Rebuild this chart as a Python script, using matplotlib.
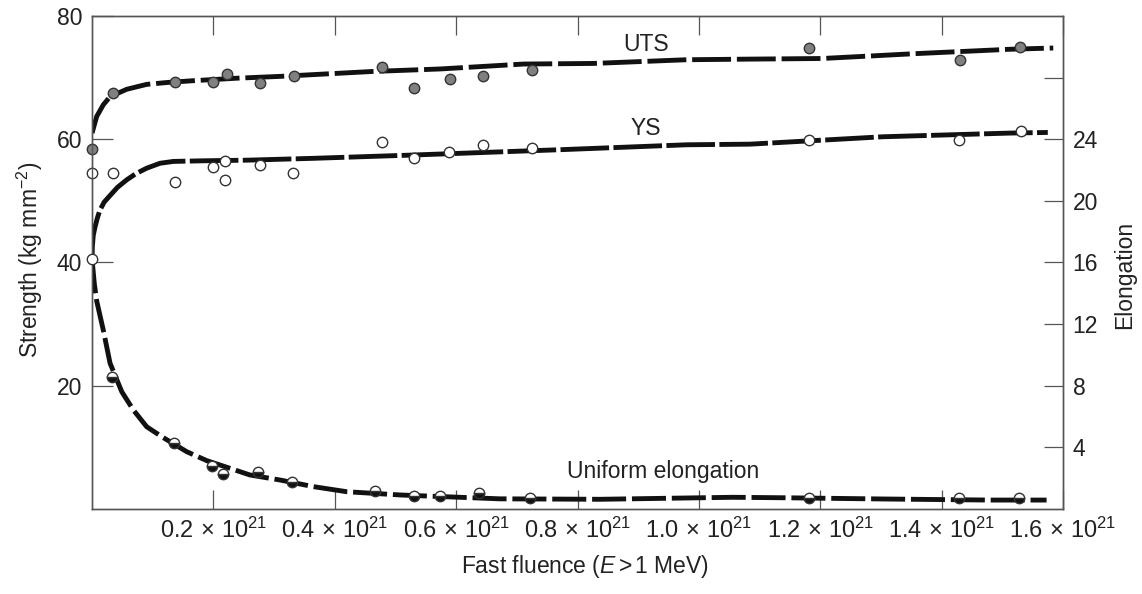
import matplotlib
matplotlib.use('Agg')
import matplotlib.pyplot as plt

plt.rcParams['font.family'] = ['Liberation Sans', 'DejaVu Sans']
plt.rcParams['mathtext.fontset'] = 'custom'
plt.rcParams['mathtext.rm'] = 'Liberation Sans'
plt.rcParams['mathtext.it'] = 'Liberation Sans:italic'
plt.rcParams['mathtext.bf'] = 'Liberation Sans:bold'

# ---- data (fluence in units of 1e21) ----
uts_x = [0.0, 0.035, 0.137, 0.200, 0.223, 0.277, 0.332, 0.478, 0.530, 0.590, 0.644, 0.725, 1.182, 1.430, 1.530]
uts_y = [58.4, 67.5, 69.3, 69.3, 70.6, 69.1, 70.3, 71.8, 68.3, 69.8, 70.3, 71.2, 74.8, 72.8, 74.9]

ys_x = [0.0, 0.035, 0.137, 0.200, 0.219, 0.219, 0.276, 0.331, 0.478, 0.530, 0.588, 0.644, 0.725, 1.182, 1.428, 1.531]
ys_y = [54.5, 54.6, 53.1, 55.5, 56.5, 53.4, 55.9, 54.6, 59.5, 56.9, 58.0, 59.1, 58.6, 59.8, 59.9, 61.3]

ue_x = [0.0325, 0.135, 0.197, 0.216, 0.274, 0.329, 0.466, 0.530, 0.573, 0.637, 0.722, 1.182, 1.428, 1.528]
ue_y = [8.55, 4.26, 2.79, 2.27, 2.38, 1.77, 1.17, 0.84, 0.84, 1.02, 0.69, 0.73, 0.73, 0.73]
ue0_x = [0.0]
ue0_y = [16.2]

# fitted curves
uts_fit_x = [0.0, 0.0077, 0.0186, 0.0297, 0.057, 0.090, 0.123, 0.167, 0.238, 0.310, 0.463, 0.573, 0.711, 0.826, 0.980, 1.084, 1.203, 1.359, 1.513, 1.584]
uts_fit_y = [61.0, 63.7, 65.6, 66.9, 68.1, 68.9, 69.2, 69.5, 69.9, 70.2, 71.0, 71.4, 72.2, 72.3, 72.9, 73.0, 73.1, 73.9, 74.6, 74.8]

ys_fit_x = [0.0, 0.0005, 0.002, 0.005, 0.009, 0.013, 0.020, 0.030, 0.042, 0.057, 0.072, 0.090, 0.112, 0.134, 0.183, 0.255, 0.364, 0.518, 0.771, 0.980, 1.084, 1.303, 1.513, 1.575]
ys_fit_y = [40.4, 42.6, 44.4, 45.8, 47.3, 48.5, 49.8, 50.9, 52.2, 53.4, 54.4, 55.3, 56.1, 56.4, 56.5, 56.6, 56.9, 57.4, 58.3, 59.1, 59.2, 60.4, 61.0, 61.1]

ue_fit_x = [0.0, 0.0038, 0.0077, 0.0186, 0.0297, 0.049, 0.068, 0.090, 0.115, 0.156, 0.189, 0.222, 0.260, 0.310, 0.365, 0.420, 0.508, 0.672, 0.837, 1.056, 1.139, 1.303, 1.480, 1.573]
ue_fit_y = [16.2, 14.6, 13.5, 11.6, 9.46, 7.61, 6.43, 5.34, 4.69, 3.72, 3.14, 2.71, 2.21, 1.88, 1.45, 1.12, 0.91, 0.66, 0.63, 0.76, 0.73, 0.65, 0.58, 0.58]

x_ticks = [0.2, 0.4, 0.6, 0.8, 1.0, 1.2, 1.4, 1.6]
x_ticklabels = [r'$0.2\,\times\,10^{21}$', r'$0.4\,\times\,10^{21}$', r'$0.6\,\times\,10^{21}$', r'$0.8\,\times\,10^{21}$',
                r'$1.0\,\times\,10^{21}$', r'$1.2\,\times\,10^{21}$', r'$1.4\,\times\,10^{21}$', r'$1.6\,\times\,10^{21}$']
left_ticks = [20, 40, 60, 80]
left_ticklabels = ['20', '40', '60', '80']
right_ticks = [4, 8, 12, 16, 20, 24, 28]
right_ticklabels = ['4', '8', '12', '16', '20', '24', '']

# ---- figure ----
fig = plt.figure(figsize=(11.42, 5.94), dpi=100)
ax = fig.add_axes([0.0806, 0.1431, 0.8502, 0.8300])
ax.set_xlim(0, 1.6)
ax.set_ylim(0, 80)
ax2 = ax.twinx()
ax2.set_ylim(0, 32)

spine_col = '#555555'
for a in (ax, ax2):
    for s in a.spines.values():
        s.set_color(spine_col)
        s.set_linewidth(1.0)

line_kw = dict(color='#111111', lw=3.5, solid_capstyle='butt', dash_capstyle='butt')
ax.plot(uts_fit_x, uts_fit_y, dashes=(8, 1.2), zorder=2, **line_kw)
ax.plot(ys_fit_x, ys_fit_y, dashes=(10, 0.9), zorder=2, **line_kw)
ax2.plot(ue_fit_x, ue_fit_y, dashes=(7, 1.2), zorder=2, **line_kw)

mk = dict(linestyle='none', marker='o', markersize=7.5, markeredgewidth=1.0,
          markeredgecolor='#333333', clip_on=False, zorder=4)
ax.plot(uts_x, uts_y, markerfacecolor='#808080', **mk)
ax.plot(ys_x, ys_y, markerfacecolor='white', **mk)
ax2.plot(ue_x, ue_y, markerfacecolor='#111111', markerfacecoloralt='white',
         fillstyle='bottom', **mk)
ax2.plot(ue0_x, ue0_y, markerfacecolor='white', **mk)

# ticks
ax.set_xticks(x_ticks)
ax.set_xticklabels(x_ticklabels)
ax.xaxis.set_ticks_position('both')
ax.set_yticks(left_ticks)
ax.set_yticklabels(left_ticklabels)
ax2.set_yticks(right_ticks)
ax2.set_yticklabels(right_ticklabels)

ax.tick_params(axis='x', direction='in', length=14, width=0.9, color=spine_col,
               labelsize=17, pad=6, labelcolor='#222222')
ax.tick_params(axis='y', direction='in', length=15, width=0.9, color=spine_col,
               labelsize=16.5, pad=7, labelcolor='#222222')
ax2.tick_params(axis='y', direction='in', length=14, width=0.9, color=spine_col,
                labelsize=16.5, pad=7, labelcolor='#222222')

# curve labels
ax.text(0.913, 75.3, 'UTS', fontsize=16.5, ha='center', va='center', color='#222222')
ax.text(0.913, 61.8, 'YS', fontsize=16.5, ha='center', va='center', color='#222222')
ax.text(0.941, 6.1, 'Uniform elongation', fontsize=16.5, ha='center', va='center', color='#222222')

# axis titles
fig.text(30 / 1142, 1 - 260 / 594, 'Strength (kg mm$^{-2}$)', rotation=90, fontsize=16.5,
         ha='center', va='center', color='#222222')
fig.text(1125 / 1142, 1 - 275 / 594, 'Elongation', rotation=90, fontsize=16.5,
         ha='center', va='center', color='#222222')
fig.text(585 / 1142, 1 - 567 / 594, r'Fast fluence ($E\,$>$\,$1 MeV)', fontsize=16.5,
         ha='center', va='center', color='#222222')

fig.savefig('out.png', dpi=100)
